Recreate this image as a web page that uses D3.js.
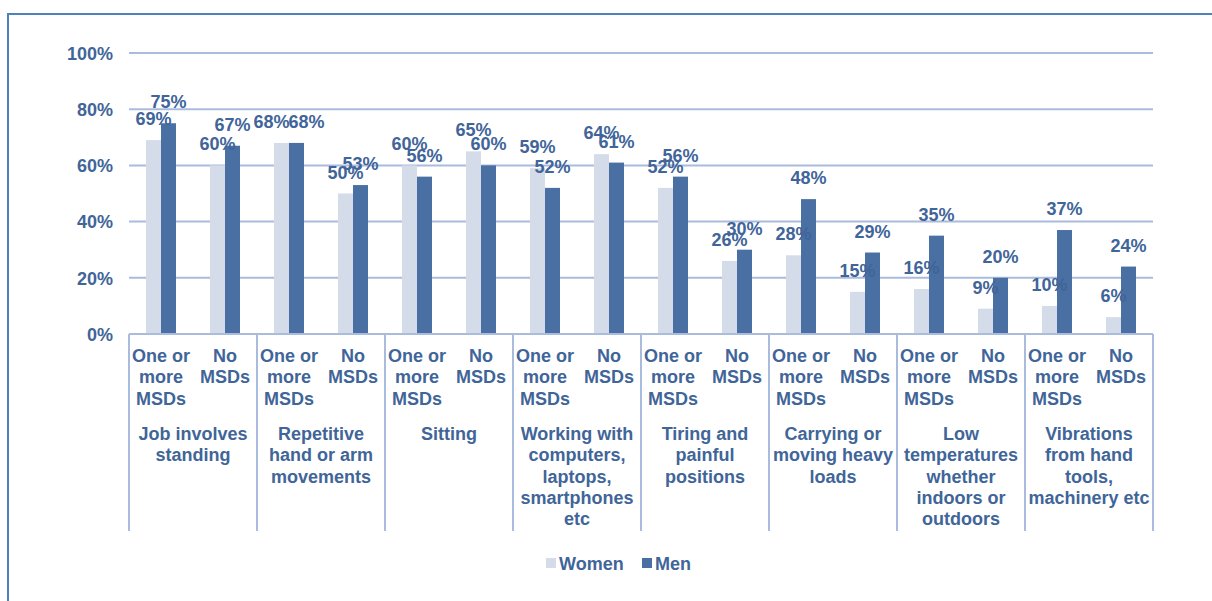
<!DOCTYPE html>
<html><head><meta charset="utf-8">
<script src="https://cdn.jsdelivr.net/npm/d3@7"></script>
<style>body{margin:0;background:#fff;}svg{display:block;font-family:"Liberation Sans",Arial,sans-serif;font-weight:bold;}</style>
</head><body>
<svg id="c" width="1212" height="601"></svg>
<script>
const groups = [
  ["Job involves","standing"],
  ["Repetitive","hand or arm","movements"],
  ["Sitting"],
  ["Working with","computers,","laptops,","smartphones","etc"],
  ["Tiring and","painful","positions"],
  ["Carrying or","moving heavy","loads"],
  ["Low","temperatures","whether","indoors or","outdoors"],
  ["Vibrations","from hand","tools,","machinery etc"]
];
const subLabels = [["One or","more","MSDs"],["No","MSDs"]];
const seriesNames = ["Women","Men"];
const women = [69,60, 68,50, 60,65, 59,64, 52,26, 28,15, 16,9, 10,6];
const men   = [75,67, 68,53, 56,60, 52,61, 56,30, 48,29, 35,20, 37,24];
const yTicks = [0,20,40,60,80,100];

const TEXT = "#3f6599", MEN = "#4a6fa3", WOMEN = "#d3dce8", GRID = "#a9bcdd", FRAME = "#4f81bd";
const svg = d3.select("#c");

// frame
svg.append("path").attr("d","M8,601 V14 H1212").attr("fill","none").attr("stroke",FRAME).attr("stroke-width",2);

const L = 129, R = 1153, T = 53, B = 334;
const y = d3.scaleLinear().domain([0,100]).range([B,T]);
const cats = d3.range(groups.length*2);
const x = d3.scaleBand().domain(cats).range([L,R]);
const x1 = d3.scaleBand().domain(seriesNames).range([x.bandwidth()/2-15, x.bandwidth()/2+15]);

// gridlines
svg.append("g").selectAll("line").data(yTicks.filter(d=>d>0)).join("line")
  .attr("x1",L).attr("x2",R).attr("y1",d=>y(d)).attr("y2",d=>y(d))
  .attr("stroke",GRID).attr("stroke-width",2);

// y axis labels
const yAxis = d3.axisLeft(y).tickValues(yTicks).tickFormat(d=>d+"%").tickSize(0).tickPadding(16);
const ga = svg.append("g").attr("transform",`translate(${L},0)`).call(yAxis);
ga.select(".domain").remove();
ga.selectAll("text").attr("fill",TEXT).attr("font-size",18).attr("font-weight","bold")
  .attr("font-family","'Liberation Sans',Arial,sans-serif").attr("dy","0.35em");

// bars
const data = [];
cats.forEach(i=>{
  const yw = y(women[i]), ym = y(men[i]);
  const clash = Math.abs(yw-ym) < 5;
  data.push({c:i,s:"Women",v:women[i],nudge:clash?-10:0});
  data.push({c:i,s:"Men",v:men[i],nudge:clash?10:0});
});
svg.append("g").selectAll("rect").data(data).join("rect")
  .attr("x",d=>x(d.c)+x1(d.s)).attr("width",x1.bandwidth())
  .attr("y",d=>y(d.v)).attr("height",d=>B-y(d.v))
  .attr("fill",d=>d.s==="Men"?MEN:WOMEN);

// value labels
svg.append("g").selectAll("text").data(data).join("text")
  .attr("x",d=>x(d.c)+x1(d.s)+x1.bandwidth()/2+d.nudge).attr("y",d=>y(d.v)-15)
  .attr("text-anchor","middle").attr("fill",TEXT).attr("font-size",18)
  .text(d=>d.v+"%");

// x axis baseline and separators
svg.append("line").attr("x1",L).attr("x2",R).attr("y1",B).attr("y2",B).attr("stroke",GRID).attr("stroke-width",2);
const seps = d3.range(groups.length+1).map(g=>g===groups.length?R:x(g*2));
svg.append("g").selectAll("line").data(seps).join("line")
  .attr("x1",d=>d).attr("x2",d=>d).attr("y1",B).attr("y2",531)
  .attr("stroke",GRID).attr("stroke-width",2);

// sub labels
const lh = 21.3;
cats.forEach(i=>{
  const t = svg.append("text").attr("text-anchor","middle").attr("fill",TEXT).attr("font-size",18);
  subLabels[i%2].forEach((s,k)=>t.append("tspan").attr("x",x(i)+x.bandwidth()/2).attr("y",362+k*lh).text(s));
});
// group labels
groups.forEach((g,gi)=>{
  const cx = x(gi*2)+x.bandwidth();
  const t = svg.append("text").attr("text-anchor","middle").attr("fill",TEXT).attr("font-size",18);
  g.forEach((s,k)=>t.append("tspan").attr("x",cx).attr("y",440+k*lh).text(s));
});

// legend
const leg = svg.append("g");
[[546,"Women",WOMEN],[642,"Men",MEN]].forEach(([lx,name,col])=>{
  leg.append("rect").attr("x",lx).attr("y",558).attr("width",10).attr("height",10).attr("fill",col);
  leg.append("text").attr("x",lx+13).attr("y",569.5).attr("fill",TEXT).attr("font-size",18).text(name);
});
</script>
</body></html>
